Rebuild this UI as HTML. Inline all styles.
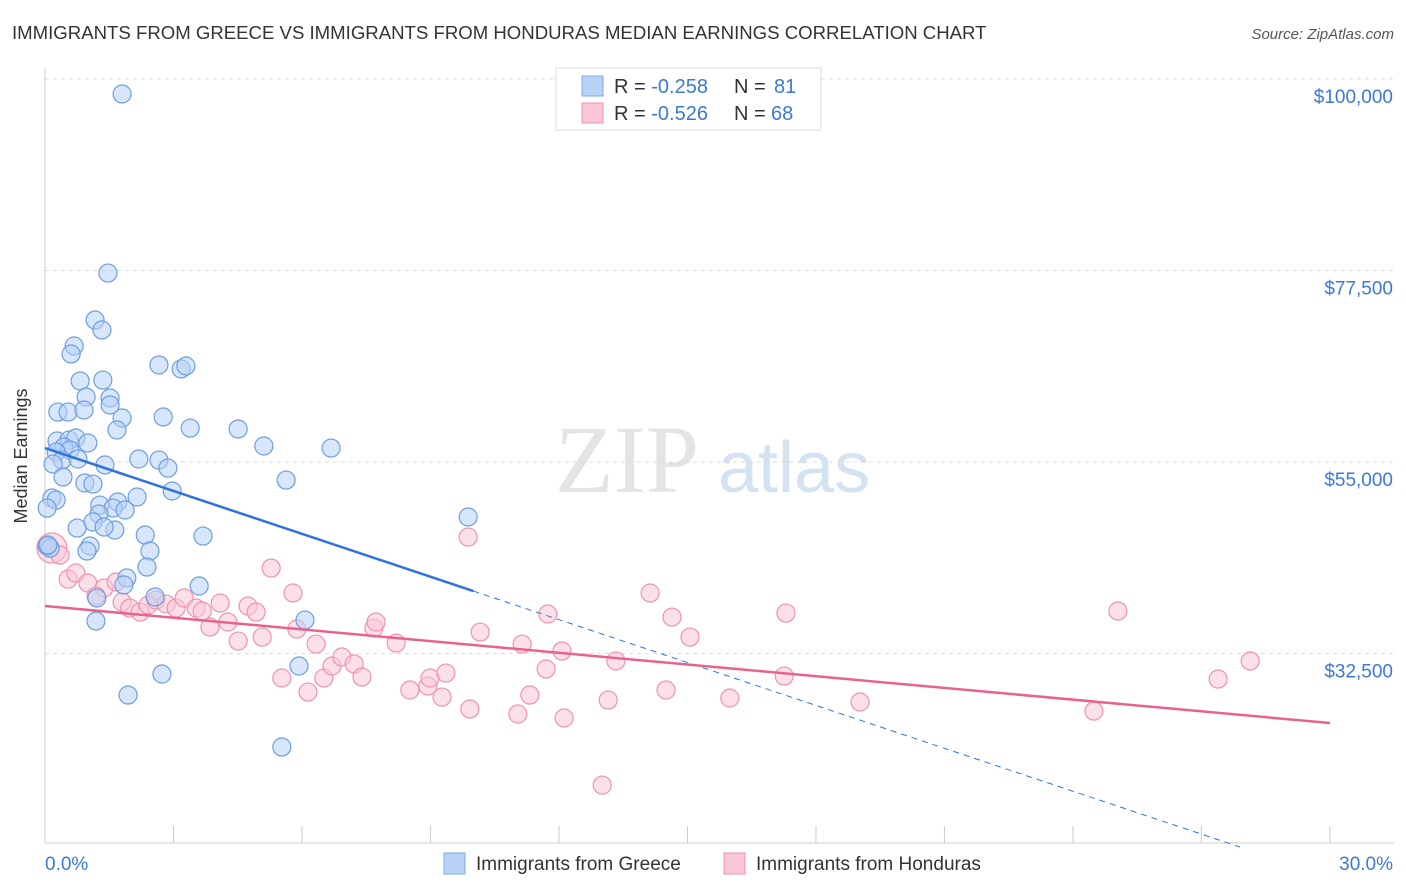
<!DOCTYPE html>
<html><head><meta charset="utf-8"><style>
body{margin:0;background:#fff;font-family:"Liberation Sans",sans-serif}
svg{display:block}
</style></head><body>
<svg id="chart" width="1406" height="892" font-family="Liberation Sans, sans-serif">
<text x="12" y="39" font-size="18.6" fill="#333">IMMIGRANTS FROM GREECE VS IMMIGRANTS FROM HONDURAS MEDIAN EARNINGS CORRELATION CHART</text>
<text x="1394" y="39" font-size="15" fill="#555" font-style="italic" text-anchor="end">Source: ZipAtlas.com</text>
<text x="27" y="456" font-size="18" fill="#333" transform="rotate(-90 27 456)" text-anchor="middle">Median Earnings</text>
<text x="555" y="492" font-size="96" fill="#e4e4e4" font-family="Liberation Serif, serif">ZIP</text>
<text x="718" y="492" font-size="72" fill="#d4e2f2">atlas</text>
<g id="grid"></g><g id="ticks"></g><g id="pts"></g><g id="lines"></g>
<g>
<rect x="556" y="68" width="265" height="62" fill="#fff" stroke="#ddd"/>
<rect x="582" y="76" width="21" height="20" fill="#b7d2f5" stroke="#7ea9e6"/>
<rect x="582" y="103" width="21" height="20" fill="#f9c6d5" stroke="#ee93b0"/>
<text x="614" y="93" font-size="20" fill="#333">R = <tspan fill="#3b78d8">-0.258</tspan><tspan x="734">N = </tspan><tspan x="774" fill="#3b78d8">81</tspan></text>
<text x="614" y="120" font-size="20" fill="#333">R = <tspan fill="#3b78d8">-0.526</tspan><tspan x="734">N = </tspan><tspan x="771" fill="#3b78d8">68</tspan></text>
</g>
<g>
<rect x="444" y="853" width="21" height="21" fill="#b7d2f5" stroke="#7ea9e6"/>
<text x="476" y="870" font-size="19" fill="#333">Immigrants from Greece</text>
<rect x="724" y="853" width="21" height="21" fill="#f9c6d5" stroke="#ee93b0"/>
<text x="756" y="870" font-size="19" fill="#333">Immigrants from Honduras</text>
</g>
</svg>
<script>
const yTicks=[100000,77500,55000,32500];
const xTickLabels=["0.0%","30.0%"];
const greeceX=[1.80,1.47,1.17,1.33,0.68,0.61,0.82,1.35,0.96,1.52,1.52,0.30,0.54,0.91,1.80,2.76,1.68,3.39,4.51,2.66,3.18,3.29,0.28,0.56,0.72,1.00,0.44,0.58,0.26,5.11,6.68,0.40,0.77,0.19,1.40,2.19,2.66,2.87,5.63,0.42,0.93,1.12,2.97,0.16,0.26,0.05,1.28,1.70,2.15,1.59,1.87,1.26,1.12,0.75,1.63,1.38,2.34,3.69,1.05,0.98,2.45,0.05,2.38,1.91,1.84,3.60,1.21,2.57,1.19,6.07,9.88,5.93,2.73,1.94,5.53,0.12,0.07];
const greeceY=[98240,77200,71680,70510,68630,67690,64520,64630,62640,62520,61700,60870,60870,61110,60170,60290,58760,58990,58880,66400,65930,66280,57470,57580,57820,57230,56760,56410,56170,56880,56640,55230,55350,54760,54650,55350,55230,54290,52880,53240,52530,52410,51590,50770,50530,49590,49940,50300,50890,49590,49360,48890,47950,47240,47010,47360,46420,46300,45130,44540,44540,45130,42660,41370,40550,40430,39020,39140,36320,36430,48540,31030,30090,27620,21510,44890,45250];
const hondX=[0.16,0.35,0.54,0.72,1.00,1.38,1.66,1.19,1.80,1.98,2.22,2.41,2.59,2.83,3.06,3.25,3.53,3.67,3.85,4.09,4.27,4.51,4.74,4.93,5.07,5.28,5.79,5.88,5.53,6.14,6.33,6.51,6.70,6.93,7.22,7.40,7.68,7.73,8.20,8.52,8.94,8.99,9.27,9.36,9.92,9.88,10.16,11.04,11.14,11.32,11.70,11.74,12.07,12.12,13.01,13.15,13.33,14.13,14.50,14.64,15.06,15.99,17.26,17.30,19.03,24.49,25.05,27.39,28.14];
const hondY=[44890,44070,41250,41960,40780,40190,40900,39250,38550,37840,37370,38200,38780,38310,37840,39020,37840,37490,35610,38430,36200,33960,38080,37370,34430,42540,39610,35380,29620,27970,33610,29620,31030,32090,31270,29740,35490,36200,33730,28210,28680,29620,27380,30200,25980,46180,35020,25390,33610,27620,30680,37140,32790,24920,17040,27030,31620,39610,28210,36780,34430,27270,29850,37250,26800,25740,37490,29500,31620];
const greeceTrend=[56640,-1680];
const hondTrend=[38080,-458.3];
const NS="http://www.w3.org/2000/svg";
const X=v=>45+v*42.83;
const Y=v=>79+(100000-v)*191.5/22500;
function mk(tag,attrs,parent){const e=document.createElementNS(NS,tag);for(const k in attrs)e.setAttribute(k,attrs[k]);document.getElementById(parent).appendChild(e);return e;}
yTicks.forEach(t=>{
 const l=mk('line',{x1:45,x2:1394,y1:Y(t),y2:Y(t),stroke:'#ddd','stroke-dasharray':'4,4'},'grid');
 
 
 const tx=mk('text',{x:1393,y:Y(t)+24,'text-anchor':'end','font-size':19,fill:'#3b78d8'},'grid');
 tx.textContent='$'+t.toLocaleString('en-US');
 
 
});
mk('line',{x1:45,x2:45,y1:68,y2:843,stroke:'#ccc'},'ticks');
mk('line',{x1:45,x2:1394,y1:843,y2:843,stroke:'#ccc'},'ticks');
for(let i=0;i<=10;i++){const t=mk('line',{x1:X(i*3),x2:X(i*3),y1:826,y2:843,stroke:'#ccc'},'ticks');
 
 }
[[0,'start',45],[30,'end',1393]].forEach((d,i)=>{const t=mk('text',{x:d[2],y:870,'text-anchor':d[1],'font-size':19,fill:'#3b78d8'},'ticks');t.textContent=xTickLabels[i];
 
 });
function pts(xs,ys,fill,stroke,name){xs.forEach((x,i)=>{const r=(i===0&&name==='honduras-point')?15:9;
 const c=mk('circle',{cx:X(x),cy:Y(ys[i]),r:r,fill:fill,'fill-opacity':0.55,stroke:stroke,'stroke-width':1.2},'pts');
 
 });}
pts(hondX,hondY,'#f9c6d5','#ee93b0','honduras-point');
pts(greeceX,greeceY,'#b7d2f5','#6d9ee0','greece-point');
const gy=x=>greeceTrend[0]+greeceTrend[1]*x, hy=x=>hondTrend[0]+hondTrend[1]*x;
let l1=mk('line',{x1:X(0),y1:Y(gy(0)),x2:X(10),y2:Y(gy(10)),stroke:'#2f74d8','stroke-width':2.5},'lines');


let l2=mk('line',{x1:X(10),y1:Y(gy(10)),x2:X(27.9),y2:Y(gy(27.9)),stroke:'#2f74d8','stroke-width':1,'stroke-dasharray':'6,5'},'lines');


let l3=mk('line',{x1:X(0),y1:Y(hy(0)),x2:X(30),y2:Y(hy(30)),stroke:'#e8628f','stroke-width':2.5},'lines');


</script>
</body></html>
